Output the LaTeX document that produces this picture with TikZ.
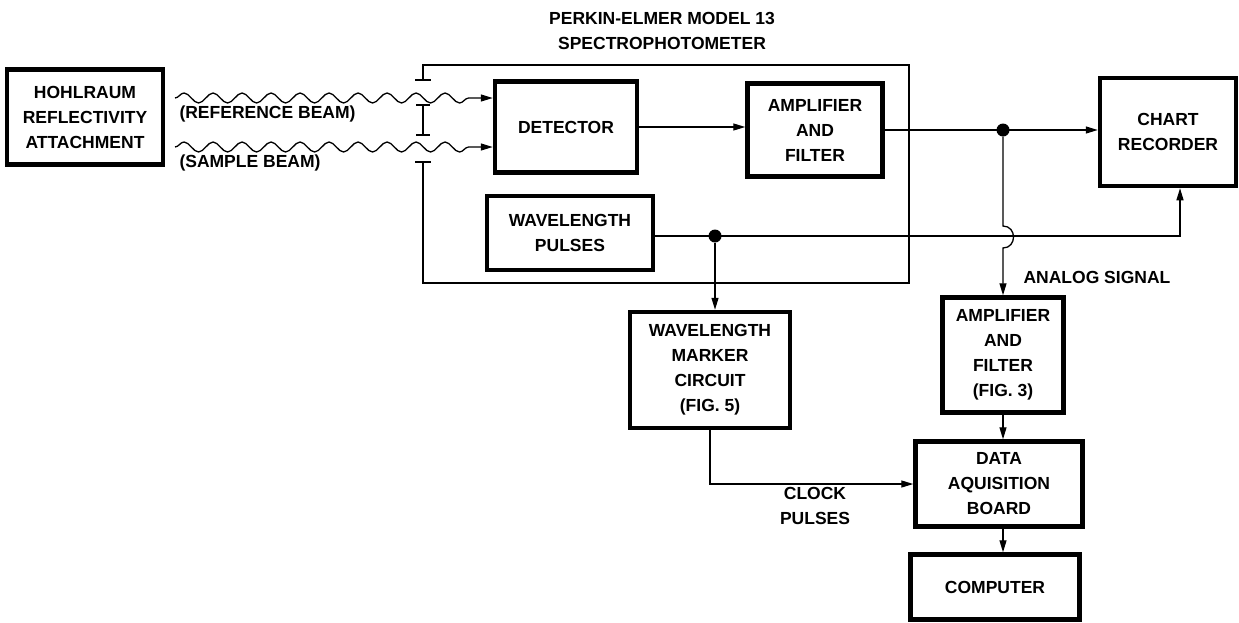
\documentclass[tikz,border=0pt]{standalone}
\usepackage{fontspec}
\setmainfont{Liberation Sans}
\usetikzlibrary{arrows.meta,decorations.pathmorphing}
\begin{document}
\begin{tikzpicture}[x=1pt,y=1pt,
  font=\fontsize{17.5}{25}\selectfont\bfseries,
  blk/.style={draw, line width=4.5pt, align=center, inner sep=0pt},
  wire/.style={line width=1.3pt},
  arr/.style={wire, -{Triangle[length=12pt,width=7pt]}},
  beam/.style={wire, decorate, decoration={snake, segment length=29pt, amplitude=5pt, post length=14pt}, -{Triangle[length=12pt,width=7pt]}},
  jdot/.style={circle, fill, inner sep=0pt, minimum size=13pt}]
\useasboundingbox (0,0) rectangle (1239,-622);

\node[blk, minimum width=156pt, minimum height=95pt] (hohl) at (85,-117) {HOHLRAUM\\REFLECTIVITY\\ATTACHMENT};
\node[blk, minimum width=142pt, minimum height=91pt] (det) at (566,-127) {DETECTOR};
\node[blk, minimum width=135pt, minimum height=93pt] (amp) at (815,-130) {AMPLIFIER\\AND\\FILTER};
\node[blk, minimum width=136pt, minimum height=108pt] (chart) at (1168,-132) {CHART\\RECORDER};
\node[blk, minimum width=166pt, minimum height=74pt] (wp) at (570,-233) {WAVELENGTH\\PULSES};
\node[blk, minimum width=160pt, minimum height=116pt] (wmc) at (710,-370) {WAVELENGTH\\MARKER\\CIRCUIT\\(FIG. 5)};
\node[blk, minimum width=121pt, minimum height=115pt] (amptwo) at (1003,-355) {AMPLIFIER\\AND\\FILTER\\(FIG. 3)};
\node[blk, minimum width=167pt, minimum height=85pt] (daq) at (999,-484) {DATA\\AQUISITION\\BOARD};
\node[blk, minimum width=169pt, minimum height=65pt] (comp) at (995,-587) {COMPUTER};

\node[align=center] (title) at (662,-31) {PERKIN-ELMER MODEL 13\\SPECTROPHOTOMETER};
\node[anchor=west] (reflbl) at (176,-114) {(REFERENCE BEAM)};
\node[anchor=west] (smplbl) at (176,-163) {(SAMPLE BEAM)};
\node[anchor=west] (anlbl) at (1020,-277) {ANALOG SIGNAL};
\node[align=center] (clklbl) at (815,-506) {CLOCK\\PULSES};

\coordinate (rin) at (175,-98);
\coordinate (sin) at (175,-147);
\draw[beam] (rin) -- (rin -| det.west);
\draw[beam] (sin) -- (sin -| det.west);

\draw[wire] (423,-80) -- (423,-65) -- (909,-65) -- (909,-283) -- (423,-283) -- (423,-162);
\draw[wire] (415,-80) -- (431,-80);
\draw[wire] (415,-162) -- (431,-162);
\draw[wire] (423,-105) -- (423,-135);
\draw[wire] (416,-105) -- (430,-105);
\draw[wire] (416,-135) -- (430,-135);

\draw[arr] (det.east) -- (det.east -| amp.west);
\draw[arr] (amp.east) -- (amp.east -| chart.west);
\node[jdot] (sig) at (1003,-130) {};
\draw[arr] (sig) -- (1003,-226) .. controls (1017,-226) and (1017,-248) .. (1003,-248) -- (amptwo.north);

\coordinate (wturn) at (1180,-236);
\draw[arr] (wp.east |- wturn) -- (wturn) -- (wturn |- chart.south);
\node[jdot] (wdot) at (715,-236) {};
\draw[arr] (wdot) -- (wdot |- wmc.north);

\draw[arr] (wmc.south) |- (daq.west);
\draw[arr] (amptwo.south) -- (amptwo.south |- daq.north);
\draw[arr] (amptwo.south |- daq.south) -- (amptwo.south |- comp.north);
\end{tikzpicture}
\end{document}
